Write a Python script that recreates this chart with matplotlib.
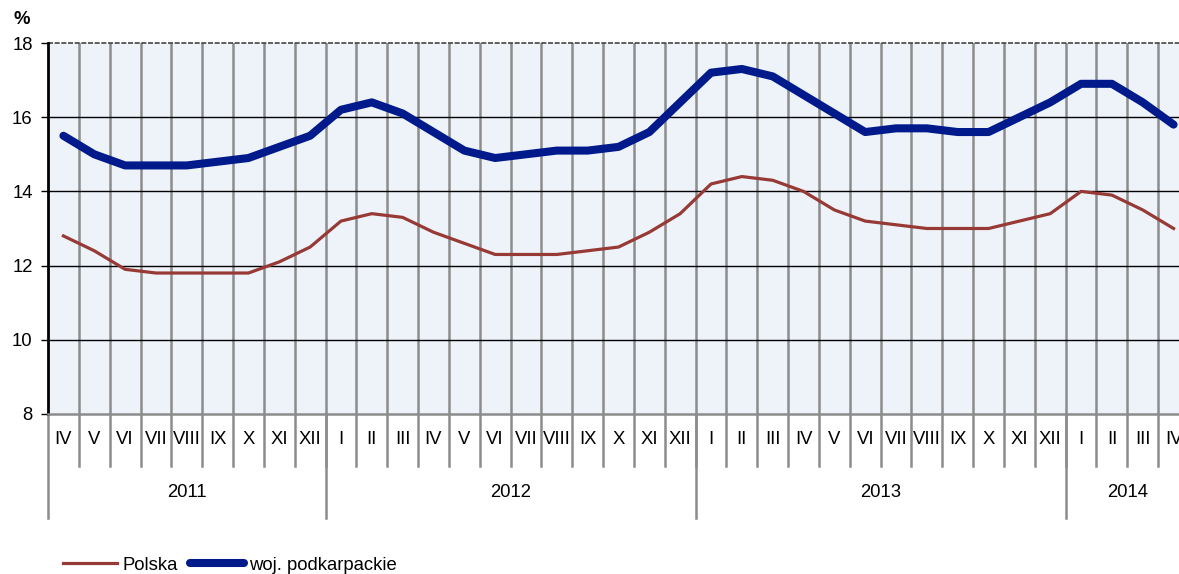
import matplotlib
matplotlib.use('Agg')
import matplotlib.pyplot as plt

plt.rcParams['font.family'] = ['Liberation Sans', 'DejaVu Sans']

# miesiace od IV 2011 do IV 2014
miesiace = ['IV', 'V', 'VI', 'VII', 'VIII', 'IX', 'X', 'XI', 'XII',
            'I', 'II', 'III', 'IV', 'V', 'VI', 'VII', 'VIII', 'IX', 'X', 'XI', 'XII',
            'I', 'II', 'III', 'IV', 'V', 'VI', 'VII', 'VIII', 'IX', 'X', 'XI', 'XII',
            'I', 'II', 'III', 'IV']
lata = ['2011', '2012', '2013', '2014']
miesiecy_w_roku = [9, 12, 12, 4]

polska = [12.8, 12.4, 11.9, 11.8, 11.8, 11.8, 11.8, 12.1, 12.5,
          13.2, 13.4, 13.3, 12.9, 12.6, 12.3, 12.3, 12.3, 12.4, 12.5, 12.9, 13.4,
          14.2, 14.4, 14.3, 14.0, 13.5, 13.2, 13.1, 13.0, 13.0, 13.0, 13.2, 13.4,
          14.0, 13.9, 13.5, 13.0]
podkarpackie = [15.5, 15.0, 14.7, 14.7, 14.7, 14.8, 14.9, 15.2, 15.5,
                16.2, 16.4, 16.1, 15.6, 15.1, 14.9, 15.0, 15.1, 15.1, 15.2, 15.6, 16.4,
                17.2, 17.3, 17.1, 16.6, 16.1, 15.6, 15.7, 15.7, 15.6, 15.6, 16.0, 16.4,
                16.9, 16.9, 16.4, 15.8]

W, H = 1179, 574
FS = 13.3
fig = plt.figure(figsize=(W / 100, H / 100), dpi=100)
ax = fig.add_axes([48 / W, (H - 414) / H, 1141 / W, 371 / H])
ax.set_facecolor('#EEF3FA')

x = list(range(len(miesiace)))
ax.set_xlim(-0.5, len(miesiace) - 0.5)
ax.set_ylim(8, 18)
ax.set_yticks([8, 10, 12, 14, 16, 18])

# siatka
for k in x[:-1]:
    ax.axvline(k + 0.5, color='#8C8C8C', lw=1.8, zorder=1)
for yv in [10, 12, 14, 16]:
    ax.axhline(yv, color='black', lw=1, zorder=1)
ax.axhline(18, color='#444444', lw=1.2, linestyle=(0, (3, 1)), zorder=1, clip_on=False)

ax.plot(x, polska, color='#973A36', lw=2.3, label='Polska', zorder=3)
ax.plot(x, podkarpackie, color='#001A8C', lw=5.8, label='woj. podkarpackie',
        solid_capstyle='round', zorder=4)

for s in ['top', 'right']:
    ax.spines[s].set_visible(False)
ax.spines['left'].set_linewidth(2)
ax.spines['bottom'].set_color('#8C8C8C')
ax.spines['bottom'].set_linewidth(1.8)

ax.tick_params(axis='y', length=5, width=1, pad=6, labelsize=FS)
ax.set_xticks([])

# os kategorii pod wykresem
tr = ax.get_xaxis_transform()
h1 = 52 / 371
h2 = 104 / 371
for k, m in enumerate(miesiace):
    ax.text(k, -h1 / 2, m, transform=tr, ha='center', va='center', fontsize=FS)
for k in x[:-1]:
    ax.plot([k + 0.5, k + 0.5], [0, -h1], transform=tr, color='#8C8C8C',
            lw=1.8, clip_on=False)
start = -0.5
for rok, n in zip(lata, miesiecy_w_roku):
    ax.plot([start, start], [0, -h2], transform=tr, color='#8C8C8C',
            lw=1.8, clip_on=False)
    ax.text(start + n / 2, -0.212, rok, transform=tr, ha='center', va='center', fontsize=FS)
    start += n

fig.text(14 / W, 1 - 20 / H, '%', fontsize=FS, fontweight='bold', va='center')

fig.legend(loc='center left', bbox_to_anchor=(63 / W, 1 - 565 / H), ncol=2,
           frameon=False, fontsize=FS, handlelength=2.9, handletextpad=0.3,
           columnspacing=0.7, borderpad=0, borderaxespad=0)

fig.savefig('out.png', dpi=100)
